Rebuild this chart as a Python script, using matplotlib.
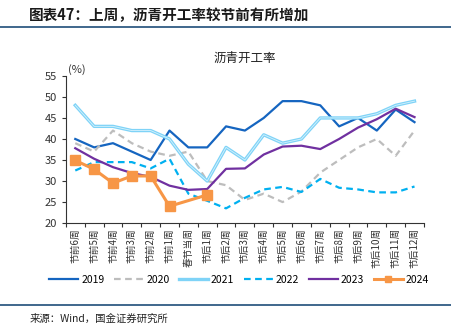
import numpy as np
import matplotlib.pyplot as plt
from matplotlib.lines import Line2D

plt.rcParams['font.family'] = ['Noto Sans CJK SC', 'DejaVu Sans']

# =============================================================================
# DATA
# =============================================================================
weeks = ['节前6周', '节前5周', '节前4周', '节前3周', '节前2周', '节前1周', '春节当周',
         '节后1周', '节后2周', '节后3周', '节后4周', '节后5周', '节后6周', '节后7周',
         '节后8周', '节后9周', '节后10周', '节后11周', '节后12周']

y2019 = [40, 38, 39, 37, 35, 42, 38, 38, 43, 42, 45, 49, 49, 48, 43, 45, 42, 47, 44]
y2020 = [39, 37, 42, 39, 37, 36, 37, 30, 29, 25.5, 27, 25, 27.5, 32, 35, 38, 40, 36, 42]
y2021 = [48, 43, 43, 42, 42, 40, 34, 30, 38, 35, 41, 39, 40, 45, 45, 45, 46, 48, 49]
y2022 = [32.5, 34.5, 34.5, 34.5, 33, 35.3, 27, 25.3, 23.5, 26, 28, 28.6, 27.4, 30.5,
         28.4, 28, 27.3, 27.3, 28.7]
y2023 = [37.8, 35.3, 33.3, 31.9, 31, 28.9, 27.9, 28.1, 32.9, 33, 36.3, 38.2, 38.4,
         37.6, 40, 42.7, 44.7, 47.2, 45.2]
# 2024: no reading for 春节当周, line joins 节前1周 to 节后1周
x2024 = [0, 1, 2, 3, 4, 5, 7]
y2024 = [34.9, 32.8, 29.5, 31.2, 31.2, 24.0, 26.7]

yticks = [20, 25, 30, 35, 40, 45, 50, 55]

# =============================================================================
# PLOT
# =============================================================================
fig = plt.figure(figsize=(4.51, 3.30), dpi=100)
ax = fig.add_axes([0.146, 0.324, 0.794, 0.446])

x = np.arange(len(weeks))
ax.plot(x, y2019, color='#1565C0', lw=1.6)
ax.plot(x, y2020, color='#BDBDBD', lw=1.6, ls=(0, (3, 2)))
ax.plot(x, y2021, color='#7FD3F7', lw=2.4)
ax.plot(x, y2021, color='#D6F2FD', lw=0.6)
ax.plot(x, y2022, color='#00B0F0', lw=1.6, ls=(0, (3, 2)))
ax.plot(x, y2023, color='#7030A0', lw=1.6)
ax.plot(x2024, y2024, color='#F79646', lw=2.2, marker='s', ms=7)

ax.set_xlim(-0.5, len(weeks) - 0.5)
ax.set_ylim(20, 55)
ax.set_yticks(yticks)
ax.set_xticks(np.arange(len(weeks) + 1) - 0.5)
ax.set_xticklabels([])
for i, w in enumerate(weeks):
    ax.text(i, 18.8, w, rotation=90, ha='center', va='top', fontsize=7, color='#333333')

for s in ['top', 'right']:
    ax.spines[s].set_visible(False)
for s in ['left', 'bottom']:
    ax.spines[s].set_color('#333333')
    ax.spines[s].set_linewidth(0.8)
ax.tick_params(axis='both', direction='out', length=3, width=0.8, colors='#333333', labelsize=8)
ax.text(-0.4, 55.3, '(%)', fontsize=8, color='#333333', ha='left', va='bottom')

ax.set_title('沥青开工率', fontsize=9, pad=10, color='#222222')

# legend
handles = [
    Line2D([], [], color='#1565C0', lw=1.6),
    Line2D([], [], color='#BDBDBD', lw=1.6, ls=(0, (3, 2))),
    Line2D([], [], color='#7FD3F7', lw=2.4),
    Line2D([], [], color='#00B0F0', lw=1.6, ls=(0, (3, 2))),
    Line2D([], [], color='#7030A0', lw=1.6),
    Line2D([], [], color='#F79646', lw=2.2, marker='s', ms=4),
]
fig.legend(handles, ['2019', '2020', '2021', '2022', '2023', '2024'],
           loc='center', bbox_to_anchor=(0.53, 0.152), ncol=6, frameon=False,
           fontsize=7.5, handlelength=2.8, handletextpad=0.3, columnspacing=0.9,
           borderpad=0.2)

# header / footer
fig.text(0.065, 0.955, '图表47：上周，沥青开工率较节前有所增加', fontsize=10.5,
         fontweight='bold', style='italic', color='#1a1a1a', ha='left', va='center')
fig.add_artist(Line2D([0, 1], [0.918, 0.918], color='#1F4E79', lw=1.2))
fig.add_artist(Line2D([0, 1], [0.076, 0.076], color='#1F4E79', lw=1.2))
fig.text(0.065, 0.035, '来源：Wind，国金证券研究所', fontsize=7.5, color='#222222',
         ha='left', va='center')

plt.savefig('out.png', dpi=100)
